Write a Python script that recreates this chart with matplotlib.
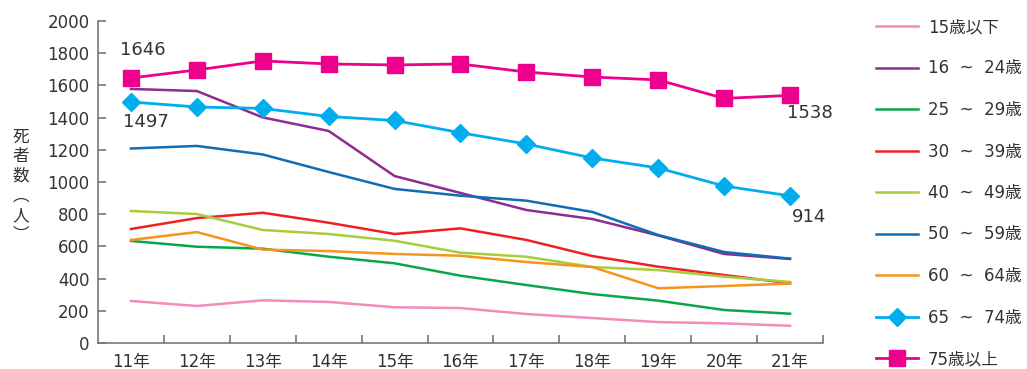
import matplotlib
matplotlib.use("Agg")
import matplotlib.pyplot as plt

plt.rcParams['font.family'] = ['DejaVu Sans', 'Noto Sans CJK JP']

years = ["11年", "12年", "13年", "14年", "15年", "16年", "17年", "18年", "19年", "20年", "21年"]

under15 = [261, 230, 265, 255, 222, 217, 180, 155, 130, 122, 107]
age16_24 = [1578, 1565, 1401, 1317, 1037, 932, 826, 770, 668, 553, 522]
age25_29 = [634, 598, 586, 536, 495, 418, 360, 304, 263, 205, 182]
age30_39 = [708, 776, 809, 747, 677, 712, 640, 540, 474, 422, 371]
age40_49 = [820, 801, 702, 677, 635, 561, 536, 472, 453, 412, 379]
age50_59 = [1208, 1224, 1171, 1062, 957, 915, 884, 814, 671, 565, 524]
age60_64 = [640, 689, 580, 571, 553, 542, 503, 472, 340, 354, 369]
age65_74 = [1497, 1466, 1457, 1407, 1382, 1306, 1236, 1149, 1087, 975, 914]
over75 = [1646, 1696, 1752, 1733, 1727, 1733, 1683, 1652, 1634, 1519, 1538]

labels = ["15歳以下", "16  ~  24歳", "25  ~  29歳", "30  ~  39歳", "40  ~  49歳",
          "50  ~  59歳", "60  ~  64歳", "65  ~  74歳", "75歳以上"]
colors = ["#f38bbd", "#8e2c8f", "#0aa64a", "#ee2024", "#a6cd3a",
          "#0f6db5", "#f7941d", "#00aeef", "#ec008c"]

fig = plt.figure(figsize=(10.27, 3.69), dpi=100)
ax = fig.add_axes([98/1027, 1-343/369, (823-98)/1027, (343-21)/369])

x = list(range(len(years)))
series = [under15, age16_24, age25_29, age30_39, age40_49, age50_59, age60_64, age65_74, over75]
handles = []
for i, (s, c, lab) in enumerate(zip(series, colors, labels)):
    if i == 7:
        h, = ax.plot(x, s, color=c, lw=2, marker='D', ms=9, label=lab, zorder=3)
    elif i == 8:
        h, = ax.plot(x, s, color=c, lw=2, marker='s', ms=11.5, label=lab, zorder=4)
    else:
        h, = ax.plot(x, s, color=c, lw=1.8, label=lab, zorder=2)
    handles.append(h)

ax.set_xlim(-0.5, 10.5)
ax.set_ylim(0, 2000)
ax.set_yticks(range(0, 2001, 200))
ax.set_xticks(x)
ax.set_xticklabels(years)
ax.set_xticks([i + 0.5 for i in range(len(years))], minor=True)
ax.tick_params(axis='x', which='major', length=0, pad=7, labelsize=12, colors='#333333')
ax.tick_params(axis='x', which='minor', direction='in', length=6, width=1.2, color='#777777')
ax.tick_params(axis='y', direction='in', length=6, width=1.2, color='#777777', labelsize=12,
               labelcolor='#333333', pad=6)
for sp in ['top', 'right']:
    ax.spines[sp].set_visible(False)
for sp in ['left', 'bottom']:
    ax.spines[sp].set_color('#777777')
    ax.spines[sp].set_linewidth(1.2)

# annotations
ann = dict(textcoords='offset pixels', ha='center', va='center', fontsize=13, color='#333333')
ax.annotate(str(over75[0]), (x[0], over75[0]), xytext=(12, 28), **ann)
ax.annotate(str(age65_74[0]), (x[0], age65_74[0]), xytext=(15, -20), **ann)
ax.annotate(str(over75[-1]), (x[-1], over75[-1]), xytext=(20, -18), **ann)
ax.annotate(str(age65_74[-1]), (x[-1], age65_74[-1]), xytext=(19, -21), **ann)

# y label, stacked vertically
fig.text(21/1027, 1-186/369, "死\n者\n数\n︵\n人\n︶", ha='center', va='center', fontsize=12,
         color='#333333', linespacing=1.2, family=['Noto Sans CJK JP', 'DejaVu Sans'])

leg = fig.legend(handles=handles, labels=labels, loc='upper left',
                 bbox_to_anchor=(876/1027, 1-18/369), frameon=False, fontsize=12,
                 labelspacing=1.41, handlelength=2.5, handletextpad=0.6, borderpad=0,
                 borderaxespad=0)
for t in leg.get_texts():
    t.set_color('#333333')

fig.savefig("out.png", dpi=100)
